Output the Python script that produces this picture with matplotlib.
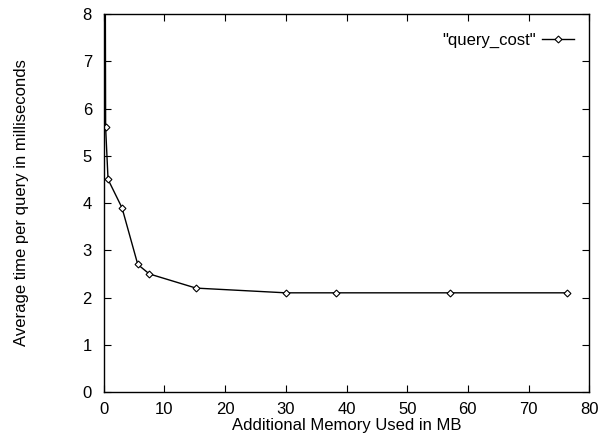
import matplotlib.pyplot as plt

# Additional memory (MB) vs average query time (ms)
memory_mb = [0.05, 0.3, 0.7, 3.0, 5.6, 7.5, 15.2, 30.0, 38.2, 57.0, 76.3]
query_ms = [20.0, 5.6, 4.5, 3.9, 2.7, 2.5, 2.2, 2.1, 2.1, 2.1, 2.1]

plt.rcParams['font.family'] = ['Liberation Sans', 'DejaVu Sans']

fig = plt.figure(figsize=(6, 4.4), dpi=100)
ax = fig.add_axes([0.173, 0.109, 0.809, 0.859])

ax.plot(memory_mb, query_ms, color='black', linewidth=1.0,
        marker='D', markersize=3.5, markerfacecolor='white',
        markeredgewidth=0.8, label='"query_cost"')

ax.set_xlim(0, 80)
ax.set_ylim(0, 8)
ax.set_xticks(range(0, 81, 10))
ax.set_yticks(range(0, 9))
ax.tick_params(direction='in', top=True, right=True, length=5,
               labelsize=12, width=0.8)
ax.tick_params(axis='x', pad=7.5)
ax.tick_params(axis='y', pad=8.5)
for s in ax.spines.values():
    s.set_linewidth(1.0)

ax.set_xlabel('Additional Memory Used in MB', fontsize=12)
ax.set_ylabel('Average time per query in milliseconds', fontsize=12)
ax.xaxis.set_label_coords(0.5, -0.068)
ax.yaxis.set_label_coords(-0.155, 0.5)

ax.legend(loc='center right', frameon=False, markerfirst=False, fontsize=12,
          handlelength=1.9, handletextpad=0.42, borderpad=0, borderaxespad=0,
          bbox_to_anchor=(0.969, 0.931))

fig.savefig('out.png', dpi=100)
